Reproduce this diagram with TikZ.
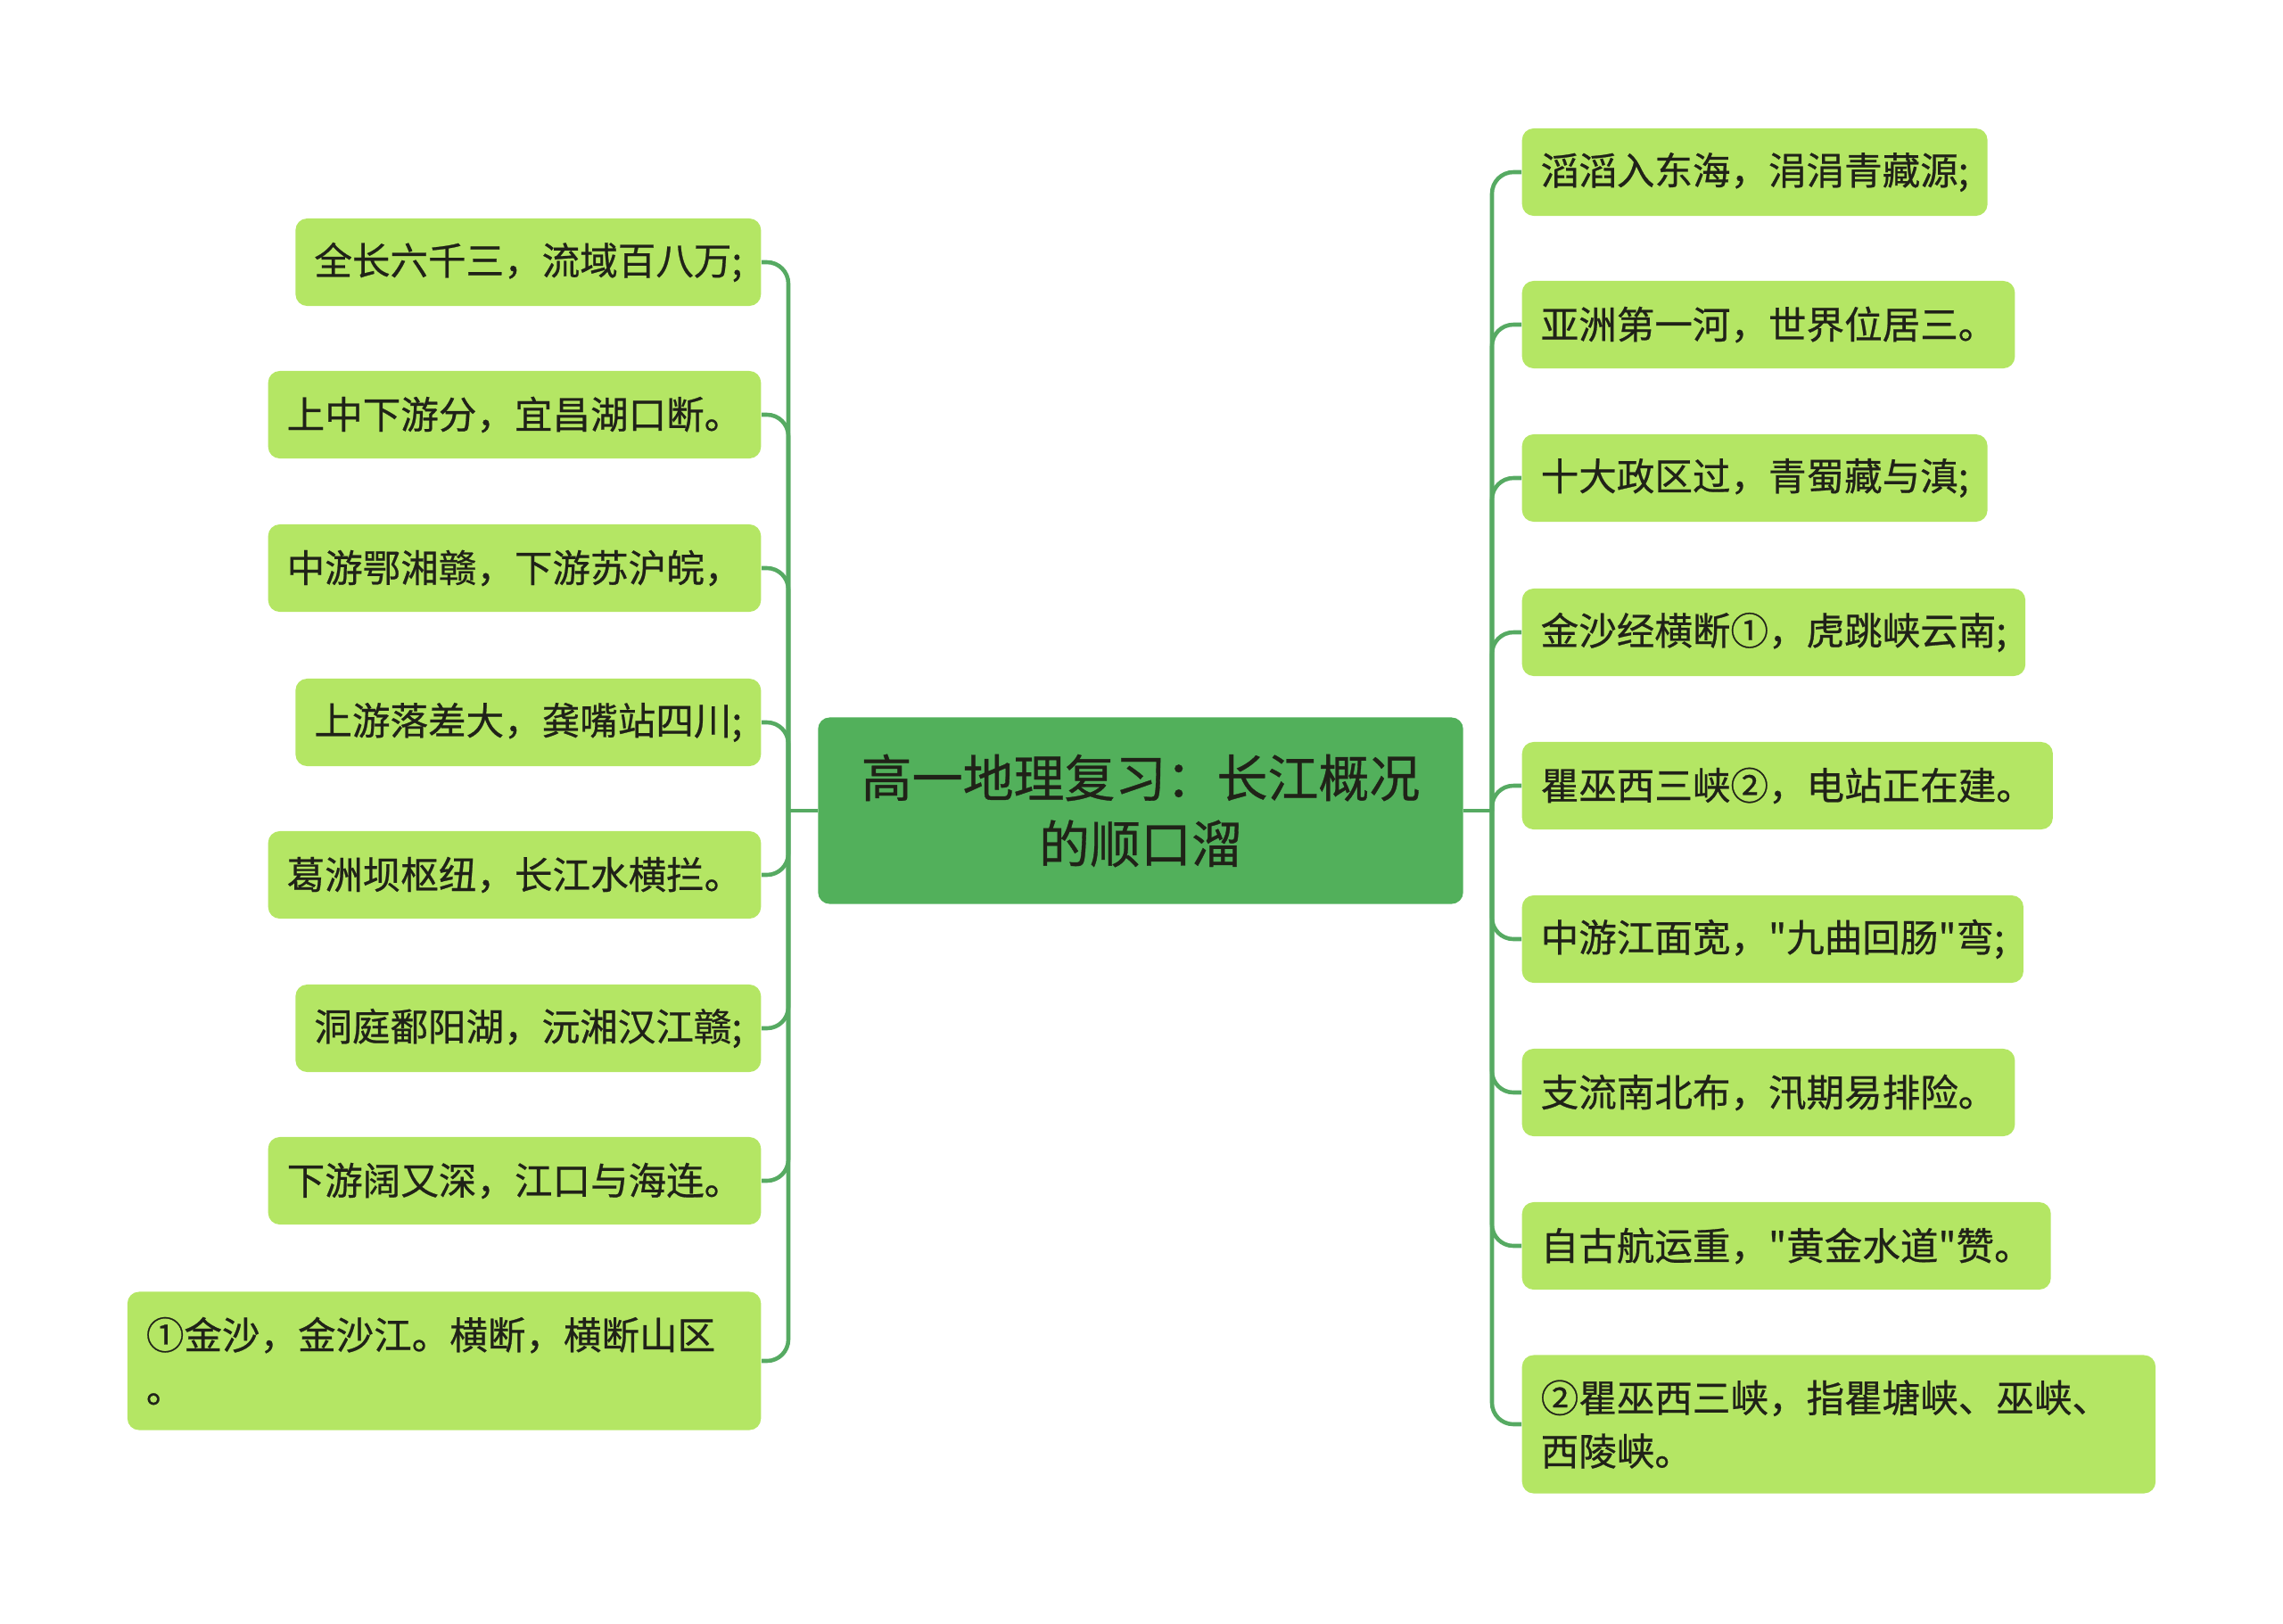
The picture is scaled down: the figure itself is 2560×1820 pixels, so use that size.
\documentclass[tikz,border=0pt]{standalone}
\usepackage{fontspec}
\newfontfamily\cjk[FakeBold=0.6]{Noto Sans CJK SC}

\begin{document}
\begin{tikzpicture}[x=0.01cm,y=-0.01cm]
    \definecolor{rootgreen}{RGB}{82,176,91}
    \definecolor{leafgreen}{RGB}{180,230,100}
    \definecolor{linegreen}{RGB}{86,170,98}
    \definecolor{inktext}{RGB}{32,34,24}
    \tikzset{
        leaf/.style={fill=leafgreen,rounded corners=0.13cm,text=inktext,
            font=\cjk\fontsize{12.1pt}{17pt}\selectfont,
            inner xsep=0.21cm,inner ysep=0pt,minimum height=0.98cm},
        wideleaf/.style={leaf,text width=6.68cm,align=left,minimum height=1.55cm},
        branch/.style={linegreen,line width=1.3pt,rounded corners=0.24cm}
    }

    \useasboundingbox (0,0) rectangle (2560,1820);

    % root
    \node[fill=rootgreen,rounded corners=0.13cm,text=inktext,
        font=\cjk\fontsize{16.2pt}{21pt}\selectfont,
        minimum width=7.23cm,minimum height=2.09cm,align=center]
        (root) at (1279,909) {高一地理复习：长江概况\\的顺口溜};

    % left side
    \coordinate (lj) at (884,909);
    \draw[branch] (root.west) -- (lj);
    \foreach \i/\y/\t in {1/294/全长六千三，流域百八万;,
                          2/465/上中下游分，宜昌湖口断。,
                          3/637/中游鄂湘赣，下游苏沪皖，,
                          4/810/上游落差大，龚嘴站四川;,
                          5/981/葛洲坝枢纽，长江水横拦。,
                          6/1153/洞庭鄱阳湖，沅湘汉江赣;,
                          7/1324/下游阔又深，江口与海连。}{
        \node[leaf,anchor=east] (l\i) at (854,\y) {\t};
        \draw[branch] (lj) |- (l\i.east);
    }
    \node[wideleaf,anchor=east] (l8) at (854,1526)
        {①金沙，金沙江。横断，横断山区\\。};
    \draw[branch] (lj) |- (l8.east);

    % right side
    \coordinate (rj) at (1673,909);
    \draw[branch] (root.east) -- (rj);
    \foreach \i/\y/\t in {1/193/滔滔入东海，涓涓青藏源;,
                          2/364/亚洲第一河，世界位居三。,
                          3/536/十大政区过，青蜀藏与滇;,
                          4/709/金沙经横断①，虎跳峡云南;,
                          5/881/瞿巫西三峡②，电站正在建。,
                          6/1053/中游江面宽，"九曲回肠"弯;,
                          7/1225/支流南北布，汛期易排险。,
                          8/1397/自古航运重，"黄金水道"赞。}{
        \node[leaf,anchor=west] (r\i) at (1706,\y) {\t};
        \draw[branch] (rj) |- (r\i.west);
    }
    \node[wideleaf,anchor=west] (r9) at (1706,1597)
        {②瞿巫西三峡，指瞿塘峡、巫峡、\\西陵峡。};
    \draw[branch] (rj) |- (r9.west);
\end{tikzpicture}
\end{document}
